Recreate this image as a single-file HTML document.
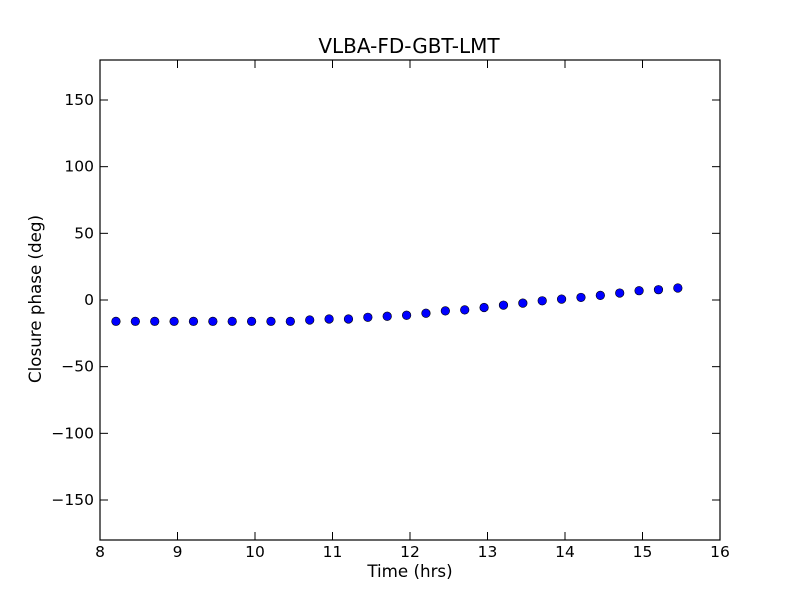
<!DOCTYPE html>
<html><head><style>body{margin:0;background:#fff}svg text{font-family:"DejaVu Sans","Liberation Sans",sans-serif}</style></head>
<body>
<svg id="s" width="800" height="600" xmlns="http://www.w3.org/2000/svg">
<rect width="800" height="600" fill="#fff"/>
<text x="409" y="53" font-size="20" text-anchor="middle">VLBA-FD-GBT-LMT</text>
<g id="pts"></g>
<rect x="100" y="60" width="620" height="480" fill="none" stroke="#000" stroke-width="1.2"/>
<g id="ticks" stroke="#000" stroke-width="1"></g>
<g id="lbl" font-size="15.5"></g>
<text x="410" y="577" font-size="16.7" text-anchor="middle">Time (hrs)</text>
<text x="41" y="299" font-size="16.7" text-anchor="middle" transform="rotate(-90 41 299)">Closure phase (deg)</text>
</svg>
<script>
var ns="http://www.w3.org/2000/svg";
function el(t,a,p){var e=document.createElementNS(ns,t);for(var k in a)e.setAttribute(k,a[k]);document.getElementById(p).appendChild(e);return e;}
for(var v=8;v<=16;v++){var x=100+(v-8)*77.5;
el('line',{x1:x,y1:540,x2:x,y2:532},'ticks');el('line',{x1:x,y1:60,x2:x,y2:68},'ticks');
var t=el('text',{x:x,y:557,'text-anchor':'middle'},'lbl');t.textContent=v;}
for(var d=-150;d<=150;d+=50){var y=300-d*480/360;
el('line',{x1:100,y1:y,x2:108,y2:y},'ticks');el('line',{x1:720,y1:y,x2:712,y2:y},'ticks');
var t=el('text',{x:94,y:y+5,'text-anchor':'end'},'lbl');t.textContent=(d<0?'\u2212':'')+Math.abs(d);}
var zy=[139,139,139,139,139,139,139,139,139,139,135,132,132,127,124,121,115,108,105,98,91,85,78,73,68,62,55,48,45,40];
for(var i=0;i<30;i++){var h=8.206+0.25*i,deg=-16+(139-zy[i])*0.2525;
el('circle',{cx:100+(h-8)*77.5,cy:300-deg*480/360,r:4.3,fill:'#0000ff',stroke:'#000','stroke-width':0.6},'pts');}
</script>
</body></html>
